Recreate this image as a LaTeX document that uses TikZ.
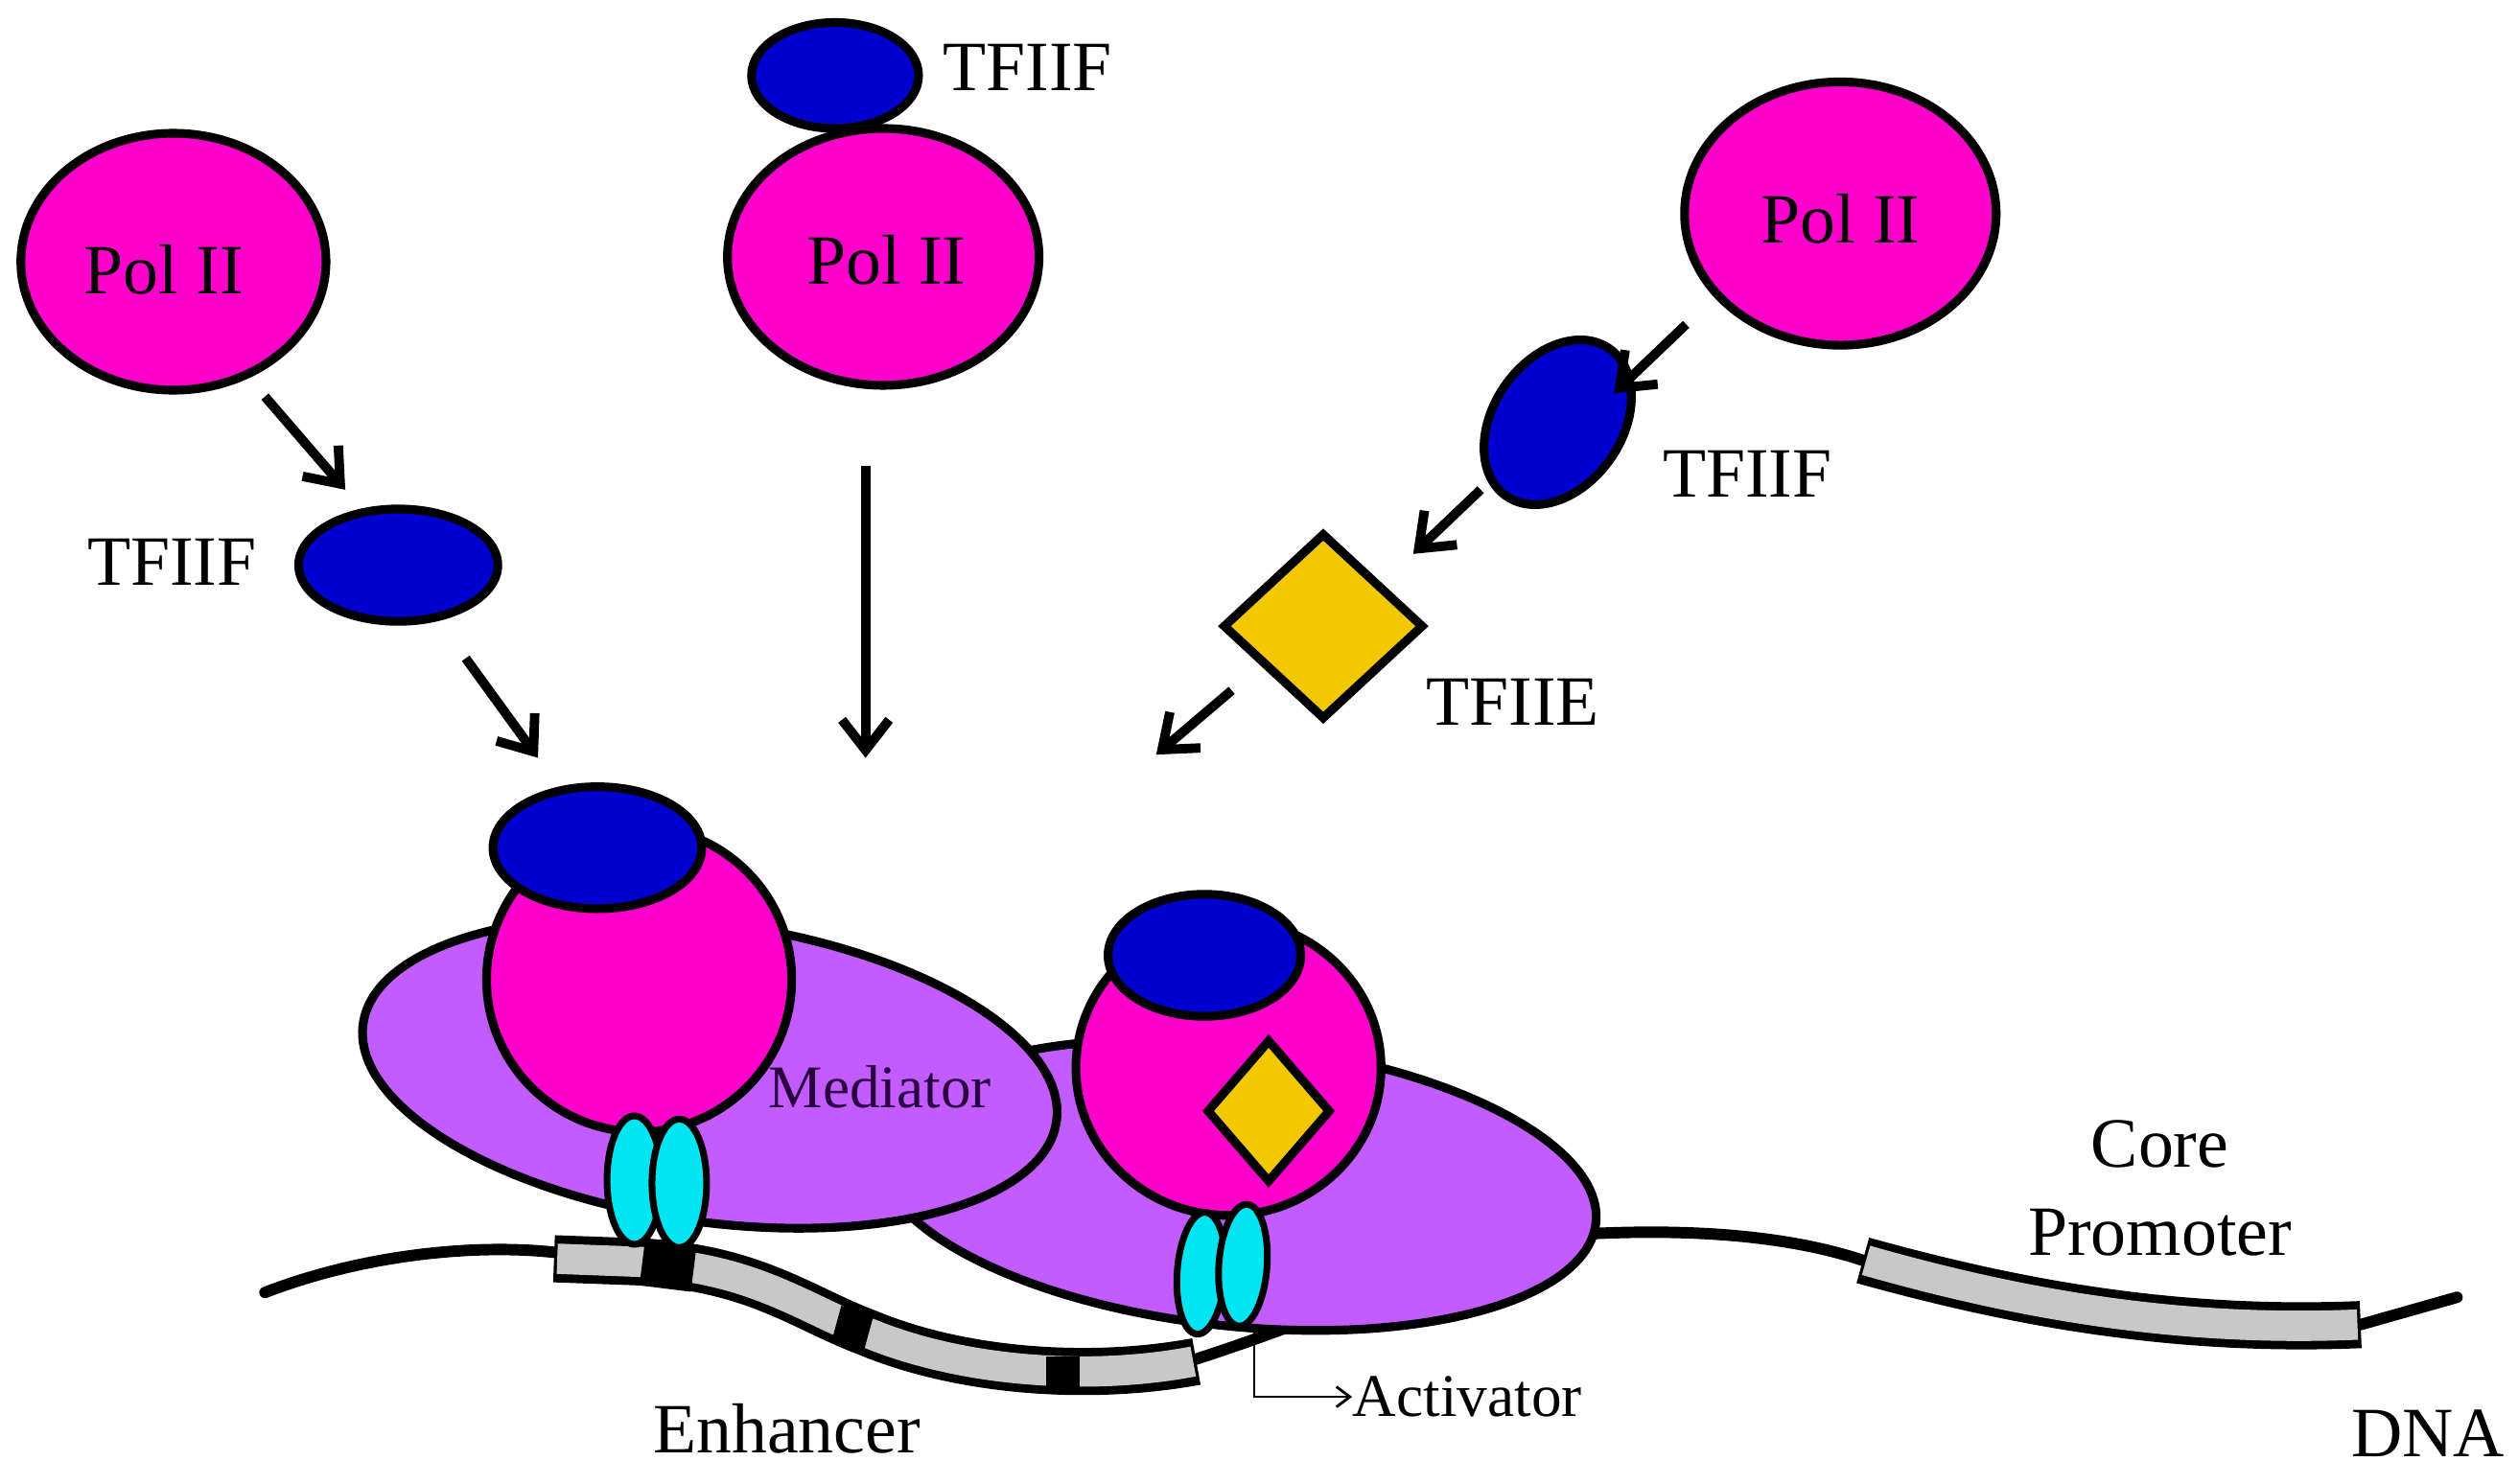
\documentclass[tikz,border=0pt]{standalone}
\usepackage{fontspec}
\setmainfont{Liberation Serif}
\usetikzlibrary{arrows.meta,shapes.geometric}
\definecolor{mag}{HTML}{FF00CC}
\definecolor{blu}{HTML}{0000D0}
\definecolor{pur}{HTML}{C25CFF}
\definecolor{yel}{HTML}{F2C800}
\definecolor{cya}{HTML}{00E5F2}
\definecolor{gry}{HTML}{C8C8C8}
\definecolor{dpur}{HTML}{2A0040}
\begin{document}
\begin{tikzpicture}[x=0.01675cm,y=-0.01675cm,
  ol/.style={draw=black,line width=2.6pt},
  pol/.style={ol,fill=mag},
  tf/.style={ol,fill=blu},
  med/.style={ol,fill=pur},
  act/.style={ol,line width=2pt,fill=cya},
  lab/.style={font=\fontsize{21}{24}\selectfont,inner sep=0pt},
  arr/.style={line width=2.8pt,-{Straight Barb[length=9pt,width=14pt,line width=2.8pt]}}]
\useasboundingbox (0,0) rectangle (1568,924);
% Free Pol II and factors
\draw[pol] (108,163) ellipse [x radius=95,y radius=80];
\node[lab] (p1) at (102,168) {Pol II};
\draw[pol] (550,160) ellipse [x radius=97,y radius=80];
\node[lab] (p2) at (552,162) {Pol II};
\draw[tf] (520,47) ellipse [x radius=52,y radius=33];
\node[lab] (f2) at (640,42) {TFIIF};
\draw[pol] (1146,133) ellipse [x radius=97,y radius=82];
\node[lab] (p3) at (1146,136) {Pol II};
\draw[tf,rotate around={-35:(970,263)}] (970,263) ellipse [x radius=40,y radius=56];
\node[lab] (f3) at (1088,295) {TFIIF};
\draw[tf] (248,352) ellipse [x radius=62,y radius=35];
\node[lab] (f1) at (107,350) {TFIIF};
\node[diamond,ol,fill=yel,minimum width=2.1cm,minimum height=1.95cm,inner sep=0pt] (e1) at (824,390) {};
\node[lab] (e1l) at (942,437) {TFIIE};
% arrows
\coordinate (a1s) at (165,247); \coordinate (a1e) at (215,305);
\coordinate (a2s) at (290,410); \coordinate (a2e) at (335,472);
\coordinate (a3s) at (539,290); \coordinate (a3e) at (539,472);
\coordinate (a4s) at (1050,202); \coordinate (a4e) at (1005,245);
\coordinate (a5s) at (922,305); \coordinate (a5e) at (880,345);
\coordinate (a6s) at (767,430); \coordinate (a6e) at (720,470);
\foreach \i in {1,...,6}{\draw[arr] (a\i s) -- (a\i e);}
% DNA
\draw[line width=3.4pt,line cap=round] (165,805) .. controls (230,780) and (300,775) .. (345,780);
\draw[line width=3.4pt,line cap=round] (740,848) .. controls (860,810) and (920,770) .. (1000,768)
   .. controls (1080,765) and (1130,775) .. (1160,785);
\draw[line width=3.4pt,line cap=round] (1470,825) -- (1530,808);
% enhancer band
\draw[line width=14pt] (345,784) -- (400,786) .. controls (470,790) and (500,815) .. (540,830)
   .. controls (600,855) and (680,860) .. (745,848);
\draw[line width=9pt,gry] (347,784) -- (400,786) .. controls (470,790) and (500,815) .. (540,830)
   .. controls (600,855) and (680,860) .. (743,848);
\draw[line width=10pt] (534,816) -- (528,838);
\draw[line width=10pt] (662,845) -- (662,865);
\draw[line width=14pt] (400,786) -- (432,790);
% core promoter
\draw[line width=14pt] (1160,785) .. controls (1250,810) and (1350,830) .. (1470,825);
\draw[line width=9pt,gry] (1162,785) .. controls (1250,810) and (1350,830) .. (1468,825);
% right complex
\draw[med,rotate around={-6:(770,738)}] (770,738) ellipse [x radius=225,y radius=88];
\draw[pol] (765,665) ellipse [x radius=95,y radius=92];
\draw[tf] (750,595) ellipse [x radius=60,y radius=38];
\node[diamond,ol,fill=yel,minimum width=1.3cm,minimum height=1.5cm,inner sep=0pt] (e2) at (790,692) {};
\draw[act,rotate around={-4:(748,793)}] (748,793) ellipse [x radius=15,y radius=38];
\draw[act,rotate around={-4:(774,788)}] (774,788) ellipse [x radius=15,y radius=38];
% left complex
\draw[med,rotate around={-8:(442,668)}] (442,668) ellipse [x radius=218,y radius=93];
\draw[pol] (398,610) circle [radius=95];
\draw[tf] (372,528) ellipse [x radius=65,y radius=38];
\draw[act] (395,735) ellipse [x radius=17,y radius=40];
\draw[act] (423,737) ellipse [x radius=17,y radius=40];
\node[inner sep=0pt,text=dpur,font=\fontsize{18}{21}\selectfont] (ml) at (548,677) {Mediator};
% labels
\coordinate (ac) at (781,825);
\node[lab,font=\fontsize{18}{21}\selectfont,anchor=west] (al) at (842,870) {Activator};
\draw[line width=0.8pt,-{Straight Barb[length=4pt,width=6pt]}] (ac) |- (al.west);
\node[lab,align=center] (cp) at (1345,740) {Core\\[2pt]Promoter};
\node[lab] (en) at (490,890) {Enhancer};
\node[lab] (dna) at (1512,893) {DNA};
\end{tikzpicture}
\end{document}
